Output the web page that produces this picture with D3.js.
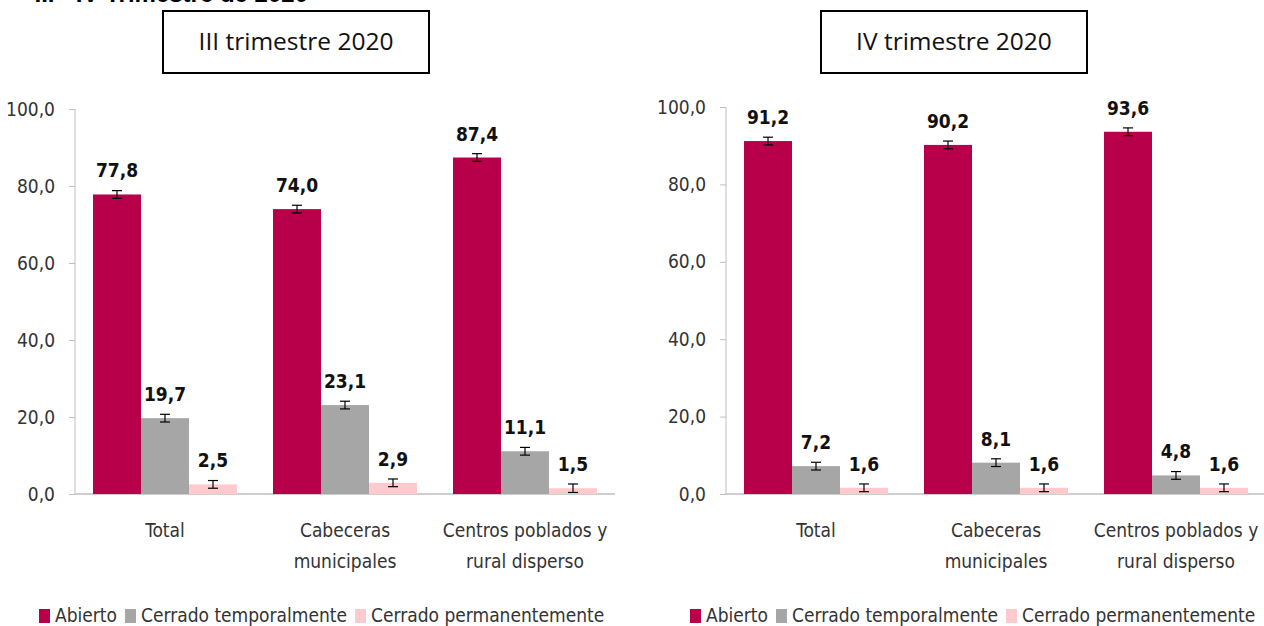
<!DOCTYPE html>
<meta charset="utf-8">
<style>
  body { margin: 0; background: #fff; }
  text { font-family: "DejaVu Sans Condensed", "Liberation Sans Narrow", sans-serif; }
</style>
<body>
<script src="https://d3js.org/d3.v7.min.js"></script>
<script>
var width = 1264,
    height = 626;

var categories = [["Total"], ["Cabeceras", "municipales"], ["Centros poblados y", "rural disperso"]];
var series = ["Abierto", "Cerrado temporalmente", "Cerrado permanentemente"];
var colors = ["#b8004a", "#a6a6a6", "#ffcacd"];
var yTicks = [0, 20, 40, 60, 80, 100];

// III trimestre 2020
var q3Abierto = [77.8, 74.0, 87.4];
var q3Temporal = [19.7, 23.1, 11.1];
var q3Permanente = [2.5, 2.9, 1.5];
// IV trimestre 2020
var q4Abierto = [91.2, 90.2, 93.6];
var q4Temporal = [7.2, 8.1, 4.8];
var q4Permanente = [1.6, 1.6, 1.6];
// error (approx. half-width of the interval)
var q3Error = [[1.0, 1.0, 1.0], [1.0, 1.0, 1.0], [1.0, 1.0, 1.1]];
var q4Error = [[1.0, 1.0, 1.0], [1.0, 1.0, 1.0], [1.0, 1.0, 1.0]];

var svg = d3.select("body").append("svg")
    .attr("width", width)
    .attr("height", height);

var fmt = function(v) { return d3.format(".1f")(v).replace(".", ","); };

// heading, cut off at the top of the picture
svg.append("text")
    .attr("x", 308).attr("y", 2)
    .attr("text-anchor", "end")
    .style("font-family", "'Liberation Sans', Arial, sans-serif")
    .style("font-weight", "bold")
    .style("font-size", "24px")
    .text("III - IV Trimestre de 2020");

function panel(ox, top, title, boxX, boxW, values, errors) {
  var g = svg.append("g").attr("transform", "translate(" + ox + ",0)");

  var x0 = d3.scaleBand().domain(d3.range(categories.length))
      .range([0, 540]).paddingInner(0.2).paddingOuter(0.1);
  var x1 = d3.scaleBand().domain(d3.range(series.length))
      .range([0, x0.bandwidth()]);
  var y = d3.scaleLinear().domain([0, 100]).range([494, top]);

  // title box
  svg.append("rect")
      .attr("x", boxX).attr("y", 11)
      .attr("width", boxW).attr("height", 62)
      .attr("fill", "#fff").attr("stroke", "#000").attr("stroke-width", 2);
  svg.append("text")
      .attr("x", boxX + boxW / 2).attr("y", 50)
      .attr("text-anchor", "middle")
      .style("font-family", "'Open Sans', sans-serif")
      .style("font-size", "24.5px")
      .attr("fill", "#111")
      .text(title);

  var yAxis = g.append("g")
      .call(d3.axisLeft(y).tickValues(yTicks).tickFormat(fmt).tickSize(6).tickPadding(14));
  yAxis.selectAll("line, path").attr("stroke", "#bfbfbf");
  yAxis.selectAll("text")
      .style("font-size", "19px")
      .attr("fill", "#333");
  yAxis.select(".domain").attr("d", "M0," + y(100) + "V" + y(0));

  g.append("line")
      .attr("x1", 0).attr("x2", 540)
      .attr("y1", y(0)).attr("y2", y(0))
      .attr("stroke", "#bfbfbf").attr("stroke-width", 1.5);

  var groups = g.selectAll(".cat")
      .data(categories)
      .enter().append("g")
      .attr("transform", function(d, i) { return "translate(" + x0(i) + ",0)"; });

  groups.each(function(cat, ci) {
    var cg = d3.select(this);
    series.forEach(function(s, si) {
      var v = values[si][ci];
      var e = errors[si][ci];
      var bx = x1(si), bw = x1.bandwidth();
      cg.append("rect")
          .attr("x", bx).attr("y", y(v))
          .attr("width", bw).attr("height", y(0) - y(v))
          .attr("fill", colors[si]);
      var cx = bx + bw / 2;
      cg.append("line")
          .attr("x1", cx).attr("x2", cx)
          .attr("y1", y(v + e)).attr("y2", y(v - e))
          .attr("stroke", "#000").attr("stroke-width", 1.2);
      [v + e, v - e].forEach(function(w) {
        cg.append("line")
            .attr("x1", cx - 5).attr("x2", cx + 5)
            .attr("y1", y(w)).attr("y2", y(w))
            .attr("stroke", "#000").attr("stroke-width", 1.2);
      });
      cg.append("text")
          .attr("x", cx).attr("y", y(v) - 17)
          .attr("text-anchor", "middle")
          .style("font-weight", "bold")
          .style("font-size", "19px")
          .attr("fill", "#111")
          .text(fmt(v));
    });

    var lab = cg.append("text")
        .attr("text-anchor", "middle")
        .style("font-size", "19px")
        .attr("fill", "#333");
    cat.forEach(function(line, li) {
      lab.append("tspan")
          .attr("x", x0.bandwidth() / 2)
          .attr("y", 537 + li * 31)
          .text(line);
    });
  });

  // legend
  var lx = ox - 36;
  series.forEach(function(s, si) {
    svg.append("rect")
        .attr("x", lx).attr("y", 609)
        .attr("width", 11).attr("height", 14)
        .attr("fill", colors[si]);
    var t = svg.append("text")
        .attr("x", lx + 16).attr("y", 622)
        .style("font-size", "19px")
        .attr("fill", "#333")
        .text(s);
    lx += 16 + t.node().getComputedTextLength() + 8;
  });
}

panel(75, 109, "III trimestre 2020", 163, 266,
      [q3Abierto, q3Temporal, q3Permanente], q3Error);
panel(726, 107, "IV trimestre 2020", 821, 266,
      [q4Abierto, q4Temporal, q4Permanente], q4Error);
</script>
</body>
